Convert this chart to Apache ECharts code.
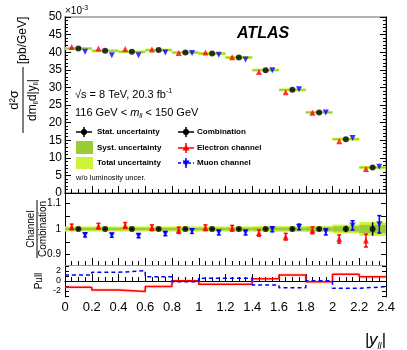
<!DOCTYPE html>
<html>
<head>
<meta charset="utf-8">
<script src="https://cdn.jsdelivr.net/npm/echarts@6/dist/echarts.min.js"></script>
<style>
html, body { margin: 0; padding: 0; background: #fff; }
#chart { width: 407px; height: 350px; }
</style>
</head>
<body>
<div id="chart"></div>
<script>
// bins in |y_ll|
const binLo = [0, 0.2, 0.4, 0.6, 0.8, 1.0, 1.2, 1.4, 1.6, 1.8, 2.0, 2.2];
const binWidth = 0.2;

// d2sigma / dm dy  [x 1e-3 pb/GeV]
const combination = [41.06, 40.4, 40.1, 40.6, 39.9, 39.6, 38.5, 34.9, 29.3, 22.9, 15.3, 7.24];
const electron = [41.5, 41.05, 40.9, 40.8, 39.8, 39.9, 38.6, 34.4, 28.6, 22.8, 14.7, 6.85];
const muon = [40.1, 39.1, 39.1, 39.9, 39.8, 39.3, 37.9, 34.9, 29.5, 22.9, 15.6, 7.45];

// relative uncertainties of the combination
const totUnc = [0.010, 0.010, 0.010, 0.010, 0.010, 0.010, 0.010, 0.011, 0.011, 0.012, 0.017, 0.027];
const systUnc = [0.005, 0.005, 0.005, 0.005, 0.005, 0.005, 0.005, 0.006, 0.006, 0.007, 0.010, 0.016];
const statUnc = [0.004, 0.004, 0.004, 0.004, 0.004, 0.004, 0.005, 0.005, 0.006, 0.007, 0.013, 0.026];

// channel / combination
const ratioElectron = [1.008, 1.011, 1.014, 1.005, 0.995, 1.005, 1.003, 0.984, 0.970, 0.995, 0.961, 0.955];
const ratioElectronErr = [0.011, 0.011, 0.011, 0.011, 0.012, 0.011, 0.011, 0.012, 0.013, 0.013, 0.016, 0.025];
const ratioMuon = [0.977, 0.976, 0.974, 0.982, 0.992, 0.986, 0.986, 0.999, 1.008, 0.989, 1.014, 1.018];
const ratioMuonErr = [0.008, 0.008, 0.008, 0.008, 0.009, 0.009, 0.009, 0.010, 0.011, 0.012, 0.018, 0.034];

// pulls
const pullElectron = [-1.27, -1.8, -2.1, -1.1, 0.07, -0.65, -0.65, 0.45, 1.2, -0.15, 1.35, 0.87];
const pullMuon = [1.2, 1.73, 2.07, 0.87, -0.13, 0.55, 0.55, -0.8, -1.33, 0.07, -1.47, -1.13];

// axis ticks
const ratioLabels = [0.9, 1, 1.1];
const ratioTicks = [0.9, 0.95, 1, 1.05, 1.1];
const pullLabels = [-2, 0, 2];
const pullTicks = [-3, -2, -1, 0, 1, 2, 3];

const FONT = '"Liberation Sans", Arial, Helvetica, sans-serif';
const TOT_COLOR = '#ccf53a';
const SYST_COLOR = '#9ccc35';
const RED = '#ff0000';
const BLUE = '#0000ff';

const binHi = binLo.map(v => +(v + binWidth).toFixed(2));
const binMid = binLo.map(v => +(v + binWidth / 2).toFixed(2));
const shift = 0.05;

const bandData = (centre, unc) => binLo.map((lo, i) => [lo, binHi[i], centre[i] * (1 - unc[i]), centre[i] * (1 + unc[i])]);
const ones = binLo.map(() => 1);
const pointData = (xs, ys) => xs.map((x, i) => [x, ys[i]]);
const errData = (xs, ys, es) => xs.map((x, i) => [x, ys[i], es[i]]);
const stepData = vals => binLo.map((lo, i) => [lo, vals[i]]).concat([[binHi[binHi.length - 1], vals[vals.length - 1]]]);

function bandRender(color, minH) {
  return function (params, api) {
    const a = api.coord([api.value(0), api.value(3)]);
    const b = api.coord([api.value(1), api.value(2)]);
    let y = a[1], h = b[1] - a[1];
    if (h < minH) { y -= (minH - h) / 2; h = minH; }
    return { type: 'rect', shape: { x: a[0], y: y, width: b[0] - a[0], height: h }, style: { fill: color } };
  };
}

function errRender(color, cap) {
  return function (params, api) {
    const x = api.value(0), y = api.value(1), e = api.value(2);
    const t = api.coord([x, y + e]), b = api.coord([x, y - e]);
    const st = { stroke: color, lineWidth: 1.5 };
    const kids = [{ type: 'line', shape: { x1: t[0], y1: t[1], x2: b[0], y2: b[1] }, style: st }];
    if (cap) {
      kids.push({ type: 'line', shape: { x1: t[0] - cap, y1: t[1], x2: t[0] + cap, y2: t[1] }, style: st });
      kids.push({ type: 'line', shape: { x1: b[0] - cap, y1: b[1], x2: b[0] + cap, y2: b[1] }, style: st });
    }
    return { type: 'group', children: kids };
  };
}

function xAxis(idx, showLabel, lineColor) {
  return {
    type: 'value', gridIndex: idx, min: 0, max: 2.4, interval: 0.2,
    axisLine: { lineStyle: { color: lineColor || '#000', width: 1 } },
    axisTick: { inside: true, length: 7, lineStyle: { color: '#000' } },
    minorTick: { show: true, splitNumber: 4, length: 4, lineStyle: { color: '#000' } },
    splitLine: { show: false },
    axisLabel: { show: showLabel, color: '#000', fontSize: 13, fontFamily: FONT, margin: 4 }
  };
}

function yAxis(idx, pos, opts) {
  return Object.assign({
    type: 'value', gridIndex: idx, position: pos,
    axisLine: { show: true, lineStyle: { color: '#000' } },
    splitLine: { show: false }
  }, opts);
}

const chart = echarts.init(document.getElementById('chart'));

const topY = {
  min: 0, max: 50, interval: 5,
  axisTick: { inside: true, length: 6, lineStyle: { color: '#000' } },
  minorTick: { show: true, splitNumber: 5, length: 3, lineStyle: { color: '#000' } }
};
const ratioY = {
  min: 0.86, max: 1.14,
  axisTick: { inside: true, length: 5, customValues: ratioTicks, lineStyle: { color: '#000' } }
};
const pullY = {
  min: -3.2, max: 3.2,
  axisTick: { inside: true, length: 4, customValues: pullTicks, lineStyle: { color: '#000' } }
};

const legendY = [132, 148, 163];

function crossIcon(cx, cy, color, dashed) {
  return [
    { type: 'line', shape: { x1: cx - 8, y1: cy, x2: cx + 8, y2: cy }, style: { stroke: color, lineWidth: 1.5, lineDash: dashed ? [3, 2] : null } },
    { type: 'line', shape: { x1: cx, y1: cy - 5, x2: cx, y2: cy + 5 }, style: { stroke: color, lineWidth: 1.5 } }
  ];
}

const graphics = [
  // legend, left column
  ...crossIcon(84, legendY[0], '#000'),
  { type: 'circle', shape: { cx: 84, cy: legendY[0], r: 3 }, style: { fill: '#000' } },
  { type: 'rect', shape: { x: 76, y: legendY[1] - 7, width: 17, height: 13 }, style: { fill: SYST_COLOR } },
  { type: 'rect', shape: { x: 76, y: legendY[2] - 6, width: 17, height: 12 }, style: { fill: TOT_COLOR } },
  // legend, right column
  ...crossIcon(186, legendY[0], '#000'),
  { type: 'circle', shape: { cx: 186, cy: legendY[0], r: 3 }, style: { fill: '#000' } },
  ...crossIcon(186, legendY[1], RED),
  { type: 'polygon', shape: { points: [[186, legendY[1] - 3.5], [189.5, legendY[1] + 2.5], [182.5, legendY[1] + 2.5]] }, style: { fill: RED } },
  ...crossIcon(186, legendY[2], BLUE, true),
  { type: 'polygon', shape: { points: [[186, legendY[2] + 3.5], [189.5, legendY[2] - 2.5], [182.5, legendY[2] - 2.5]] }, style: { fill: BLUE } }
];

const legendTexts = [
  ['Stat. uncertainty', 97, 0], ['Syst. uncertainty', 97, 1], ['Total uncertainty', 97, 2],
  ['Combination', 197, 0], ['Electron channel', 197, 1], ['Muon channel', 197, 2]
];
legendTexts.forEach(t => graphics.push({
  type: 'text', x: t[1], y: legendY[t[2]],
  style: { text: t[0], font: 'bold 8px ' + FONT, fill: '#000', textAlign: 'left', textVerticalAlign: 'middle' }
}));

graphics.push(
  { type: 'text', x: 76, y: 178, style: { text: 'w/o luminosity uncer.', font: '7.5px ' + FONT, fill: '#000', textVerticalAlign: 'middle' } },
  { type: 'text', x: 237, y: 34, style: { text: 'ATLAS', font: 'italic bold 16px ' + FONT, fill: '#000', textVerticalAlign: 'middle' } },
  {
    type: 'text', x: 75, y: 95,
    style: {
      text: '{n|√s = 8 TeV, 20.3 fb}{s|-1}', fill: '#000', textVerticalAlign: 'middle',
      rich: { n: { font: '11px ' + FONT, lineHeight: 14 }, s: { font: '7px ' + FONT, verticalAlign: 'top', lineHeight: 14 } }
    }
  },
  {
    type: 'text', x: 75, y: 113,
    style: {
      text: '{n|116 GeV < }{i|m}{b|ll}{n| < 150 GeV}', fill: '#000', textVerticalAlign: 'middle',
      rich: {
        n: { font: '11px ' + FONT, lineHeight: 14, verticalAlign: 'middle' },
        i: { font: 'italic 11px ' + FONT, lineHeight: 14, verticalAlign: 'middle' },
        b: { font: 'italic 7px ' + FONT, lineHeight: 14, verticalAlign: 'bottom' }
      }
    }
  },
  {
    type: 'text', x: 65, y: 11,
    style: {
      text: '{n|×10}{s|-3}', fill: '#000', textVerticalAlign: 'middle',
      rich: { n: { font: '10px ' + FONT, lineHeight: 12 }, s: { font: '7px ' + FONT, verticalAlign: 'top', lineHeight: 12 } }
    }
  },
  // top y title (rotated fraction)
  {
    type: 'group', x: 23, y: 100, rotation: Math.PI / 2,
    children: [
      { type: 'line', shape: { x1: -33, y1: 0, x2: 33, y2: 0 }, style: { stroke: '#000', lineWidth: 1 } },
      { type: 'text', x: 0, y: -2, style: { text: 'd²σ', font: '13px ' + FONT, fill: '#000', textAlign: 'center', textVerticalAlign: 'bottom' } },
      {
        type: 'text', x: 0, y: 2,
        style: {
          text: '{n|dm}{b|ll}{n|d|y}{b|ll}{n||}', textAlign: 'center', textVerticalAlign: 'top', fill: '#000',
          rich: {
            n: { font: '12px ' + FONT, lineHeight: 15, verticalAlign: 'middle' },
            b: { font: '7px ' + FONT, lineHeight: 15, verticalAlign: 'bottom' }
          }
        }
      },
      { type: 'text', x: 36, y: 0, style: { text: '[pb/GeV]', font: '12px ' + FONT, fill: '#000', textAlign: 'left', textVerticalAlign: 'middle' } }
    ]
  },
  // ratio y title
  {
    type: 'group', x: 37, y: 229, rotation: Math.PI / 2,
    children: [
      { type: 'line', shape: { x1: -29, y1: 0, x2: 29, y2: 0 }, style: { stroke: '#000', lineWidth: 1 } },
      { type: 'text', x: 0, y: -1, style: { text: 'Channel', font: '10px ' + FONT, fill: '#000', textAlign: 'center', textVerticalAlign: 'bottom' } },
      { type: 'text', x: 0, y: 1, style: { text: 'Combination', font: '10px ' + FONT, fill: '#000', textAlign: 'center', textVerticalAlign: 'top' } }
    ]
  },
  {
    type: 'text', x: 39, y: 281, rotation: Math.PI / 2,
    style: { text: 'Pull', font: '10px ' + FONT, fill: '#000', textAlign: 'center', textVerticalAlign: 'middle' }
  },
  {
    type: 'text', x: 386, y: 340,
    style: {
      text: '{n||y}{b|ll}{n||}', textAlign: 'right', textVerticalAlign: 'middle', fill: '#000',
      rich: {
        n: { font: 'italic 17px ' + FONT, lineHeight: 22, verticalAlign: 'middle' },
        b: { font: 'italic 9px ' + FONT, lineHeight: 22, verticalAlign: 'bottom' }
      }
    }
  }
);

chart.setOption({
  animation: false,
  backgroundColor: '#fff',
  grid: [
    { left: 65, right: 21, top: 17, height: 176, show: true, borderColor: '#999', borderWidth: 1.5, backgroundColor: 'transparent' },
    { left: 65, right: 21, top: 193, height: 72 },
    { left: 65, right: 21, top: 265, height: 32 }
  ],
  xAxis: [xAxis(0, false), xAxis(1, false, '#999'), xAxis(2, true)],
  yAxis: [
    yAxis(0, 'left', Object.assign({ axisLabel: { color: '#000', fontSize: 12, fontFamily: FONT, margin: 3 } }, topY)),
    yAxis(0, 'right', Object.assign({ axisLabel: { show: false } }, topY)),
    yAxis(1, 'left', Object.assign({ axisLabel: { color: '#000', fontSize: 10, fontFamily: FONT, margin: 4, customValues: ratioLabels } }, ratioY)),
    yAxis(1, 'right', Object.assign({ axisLabel: { show: false } }, ratioY)),
    yAxis(2, 'left', Object.assign({ axisLabel: { color: '#000', fontSize: 9, fontFamily: FONT, margin: 4, customValues: pullLabels } }, pullY)),
    yAxis(2, 'right', Object.assign({ axisLabel: { show: false } }, pullY))
  ],
  graphic: graphics,
  series: [
    { type: 'custom', xAxisIndex: 0, yAxisIndex: 0, renderItem: bandRender(TOT_COLOR, 3), data: bandData(combination, totUnc) },
    { type: 'custom', xAxisIndex: 0, yAxisIndex: 0, renderItem: bandRender(SYST_COLOR, 1.5), data: bandData(combination, systUnc) },
    { type: 'scatter', xAxisIndex: 0, yAxisIndex: 0, symbol: 'circle', symbolSize: 6, itemStyle: { color: '#000' }, data: pointData(binMid, combination) },
    { type: 'scatter', xAxisIndex: 0, yAxisIndex: 0, symbol: 'triangle', symbolSize: 6, itemStyle: { color: RED }, data: pointData(binMid.map(x => x - shift), electron) },
    { type: 'scatter', xAxisIndex: 0, yAxisIndex: 0, symbol: 'triangle', symbolRotate: 180, symbolSize: 6, itemStyle: { color: BLUE }, data: pointData(binMid.map(x => x + shift), muon) },

    { type: 'custom', xAxisIndex: 1, yAxisIndex: 2, renderItem: bandRender(TOT_COLOR, 0), data: bandData(ones, totUnc) },
    { type: 'custom', xAxisIndex: 1, yAxisIndex: 2, renderItem: bandRender(SYST_COLOR, 0), data: bandData(ones, systUnc) },
    { type: 'custom', xAxisIndex: 1, yAxisIndex: 2, renderItem: errRender('#000', 0), data: errData(binMid, ones, statUnc) },
    { type: 'custom', xAxisIndex: 1, yAxisIndex: 2, renderItem: errRender(RED, 2), data: errData(binMid.map(x => x - shift), ratioElectron, ratioElectronErr) },
    { type: 'custom', xAxisIndex: 1, yAxisIndex: 2, renderItem: errRender(BLUE, 2), data: errData(binMid.map(x => x + shift), ratioMuon, ratioMuonErr) },
    { type: 'scatter', xAxisIndex: 1, yAxisIndex: 2, symbol: 'circle', symbolSize: 6, itemStyle: { color: '#000' }, data: pointData(binMid, ones) },
    { type: 'scatter', xAxisIndex: 1, yAxisIndex: 2, symbol: 'triangle', symbolSize: 6, itemStyle: { color: RED }, data: pointData(binMid.map(x => x - shift), ratioElectron) },
    { type: 'scatter', xAxisIndex: 1, yAxisIndex: 2, symbol: 'triangle', symbolRotate: 180, symbolSize: 6, itemStyle: { color: BLUE }, data: pointData(binMid.map(x => x + shift), ratioMuon) },

    { type: 'line', xAxisIndex: 2, yAxisIndex: 4, step: 'end', showSymbol: false, lineStyle: { color: RED, width: 1.5, shadowColor: 'rgba(255,80,80,0.6)', shadowBlur: 2 }, data: stepData(pullElectron) },
    { type: 'line', xAxisIndex: 2, yAxisIndex: 4, step: 'end', showSymbol: false, lineStyle: { color: BLUE, width: 1.5, type: [4, 3] }, data: stepData(pullMuon) }
  ]
});
</script>
</body>
</html>
